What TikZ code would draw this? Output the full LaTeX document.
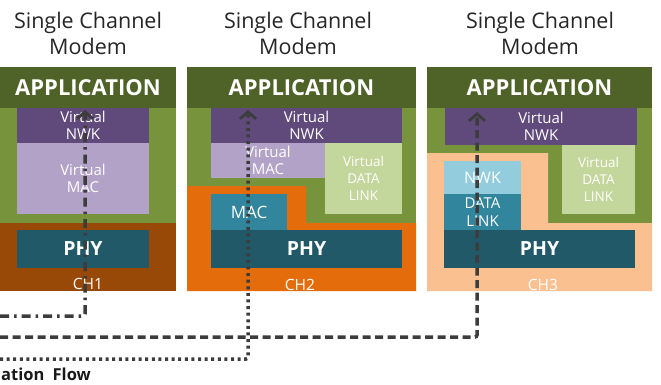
\documentclass[tikz,border=0pt]{standalone}
\usepackage{fontspec}
\setmainfont{Open Sans}
\usetikzlibrary{arrows.meta}
\definecolor{appgreen}{HTML}{4F6228}
\definecolor{midgreen}{HTML}{77933C}
\definecolor{vnwk}{HTML}{604A7B}
\definecolor{vmac}{HTML}{B3A2C7}
\definecolor{vdl}{HTML}{C3D69B}
\definecolor{chone}{HTML}{984807}
\definecolor{chtwo}{HTML}{E46C0A}
\definecolor{chthree}{HTML}{FAC090}
\definecolor{phyc}{HTML}{215968}
\definecolor{macc}{HTML}{31859C}
\definecolor{nwkc}{HTML}{93CDDD}
\definecolor{flowc}{HTML}{3C3C3C}
\begin{document}
\begin{tikzpicture}[x=1pt,y=-1pt,
  lay/.style={inner sep=0pt, outer sep=0pt, anchor=north west, text=white, align=center,
    font=\fontsize{15}{17.5}\selectfont},
  apptext/.style={font=\fontsize{22}{26}\selectfont\bfseries},
  phytext/.style={font=\fontsize{19.5}{24}\selectfont\bfseries},
  small/.style={font=\fontsize{13.5}{17}\selectfont},
  chlab/.style={text=white, inner sep=0pt, font=\fontsize{15.5}{18}\selectfont},
  title/.style={text=black!85, align=center, inner sep=0pt, font=\fontsize{21.5}{26}\selectfont},
  flow/.style={draw=flowc, line width=3.5pt, rounded corners=2pt,
    -{Straight Barb[length=7pt,width=16pt,line width=2.8pt]}},
]
\useasboundingbox (0,0) rectangle (661,385);

% ---------- titles
\node[title] (ttl1) at (88,33) {Single Channel\\Modem};
\node[title] (ttl2) at (298,33) {Single Channel\\Modem};
\node[title] (ttl3) at (540,33) {Single Channel\\Modem};

% ---------- module 1
\fill[midgreen] (0,67) rectangle (176,223);
\fill[chone] (0,223) rectangle (176,291);
\node[lay, fill=appgreen, minimum width=176pt, minimum height=41pt, apptext] (app1) at (0,67) {APPLICATION};
\node[lay, fill=vnwk, minimum width=132pt, minimum height=35pt] (vnwk1) at (17,108) {Virtual\\NWK};
\node[lay, fill=vmac, minimum width=132pt, minimum height=71pt] (vmac1) at (17,143) {Virtual\\MAC};
\node[lay, fill=phyc, minimum width=132pt, minimum height=38pt, phytext] (phy1) at (17,230) {PHY};
\node[chlab] (ch1) at (88,284) {CH1};

% ---------- module 2
\fill[midgreen] (187,67) rectangle (416,291);
\fill[chtwo] (187,186) -- (306,186) -- (306,223) -- (416,223) -- (416,291) -- (187,291) -- cycle;
\node[lay, fill=appgreen, minimum width=229pt, minimum height=41pt, apptext] (app2) at (187,67) {APPLICATION};
\node[lay, fill=vnwk, minimum width=191pt, minimum height=35pt] (vnwk2) at (211,108) {Virtual\\NWK};
\node[lay, fill=vmac, minimum width=114pt, minimum height=35pt] (vmac2) at (211,143) {Virtual\\MAC};
\node[lay, fill=vdl, minimum width=77pt, minimum height=71pt, small] (vdl2) at (325,143) {Virtual\\DATA\\LINK};
\node[lay, fill=macc, minimum width=76pt, minimum height=36pt, font=\fontsize{17}{20}\selectfont] (mac2) at (211,194) {MAC};
\node[lay, fill=phyc, minimum width=191pt, minimum height=38pt, phytext] (phy2) at (211,230) {PHY};
\node[chlab] (ch2) at (300,285) {CH2};

% ---------- module 3
\fill[midgreen] (427,67) rectangle (652,291);
\fill[chthree] (427,153) -- (548,153) -- (548,223) -- (652,223) -- (652,291) -- (427,291) -- cycle;
\node[lay, fill=appgreen, minimum width=225pt, minimum height=41pt, apptext] (app3) at (427,67) {APPLICATION};
\node[lay, fill=vnwk, minimum width=192pt, minimum height=37pt] (vnwk3) at (445,108) {Virtual\\NWK};
\node[lay, fill=vdl, minimum width=73pt, minimum height=69pt, small] (vdl3) at (562,145) {Virtual\\DATA\\LINK};
\node[lay, fill=nwkc, minimum width=77pt, minimum height=33pt, font=\fontsize{16}{19}\selectfont] (nwk3) at (444,161) {NWK};
\node[lay, fill=macc, minimum width=77pt, minimum height=36pt] (dl3) at (444,194) {DATA\\LINK};
\node[lay, fill=phyc, minimum width=191pt, minimum height=38pt, phytext] (phy3) at (444,230) {PHY};
\node[chlab] (ch3) at (543,285) {CH3};

% ---------- flows
\coordinate (s1) at (0,316);
\coordinate (t1) at (85,110);
\coordinate (s2) at (0,359);
\coordinate (t2) at (248,110);
\coordinate (s3) at (0,337);
\coordinate (t3) at (477,112);
\draw[flow, dash pattern=on 9pt off 5pt on 2.5pt off 5pt] (s1) -| (t1);
\draw[flow, dash pattern=on 3pt off 3.6pt] (s2) -| (t2);
\draw[flow, dash pattern=on 8pt off 4.5pt] (s3) -| (t3);

\node[anchor=west, inner sep=0pt, text=black!90, font=\fontsize{16.5}{20}\selectfont\bfseries] (lbl) at (1,374) {ation\enspace Flow};
\end{tikzpicture}
\end{document}
